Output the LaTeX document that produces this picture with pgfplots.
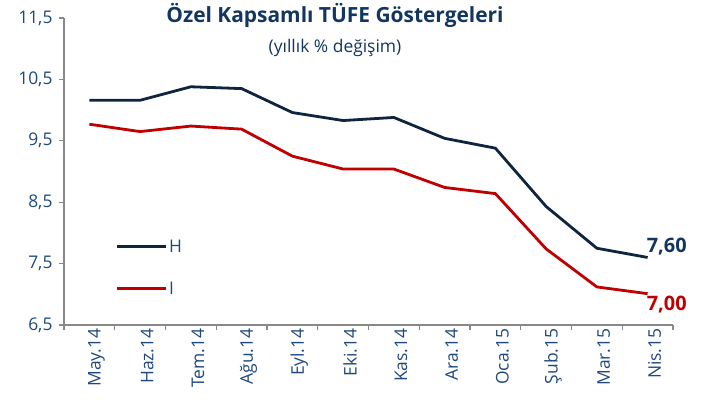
\documentclass[border=0pt]{standalone}
\usepackage{pgfplots}
\pgfplotsset{compat=1.18}
\usepackage{fontspec}
\setmainfont{Open Sans}
\definecolor{navy}{HTML}{0F243E}
\definecolor{tickblue}{HTML}{1F497D}
\definecolor{titleblue}{HTML}{12365F}
\definecolor{redl}{HTML}{C00000}
\definecolor{axgray}{HTML}{898989}
\begin{document}
\begin{tikzpicture}
\useasboundingbox (-64bp,-78bp) rectangle (641bp,325bp);
\begin{axis}[
  scale only axis, width=609bp, height=307bp,
  xmin=-0.5, xmax=11.5, ymin=6.5, ymax=11.5,
  axis x line*=bottom, axis y line*=left,
  axis line style={axgray, line width=1.3bp, -},
  clip=false,
  ytick={6.5,7.5,...,11.5},
  xtick={-0.5,0.5,...,11.5}, xticklabels={},
  extra x ticks={0,...,11},
  extra x tick labels={May.14,Haz.14,Tem.14,Ağu.14,Eyl.14,Eki.14,Kas.14,Ara.14,Oca.15,Şub.15,Mar.15,Nis.15},
  extra x tick style={major tick length=0pt},
  tick align=outside, major tick length=5bp,
  tick style={axgray, line width=1.2bp},
  yticklabel style={font=\fontsize{17.5}{20}\selectfont, text=tickblue, xshift=-3bp},
  xticklabel style={font=\fontsize{17.5}{20}\selectfont, text=tickblue, rotate=90, anchor=east, yshift=-7bp},
  /pgf/number format/.cd, use comma, fixed, fixed zerofill, precision=1, assume math mode=true,
  /pgfplots/.cd,
  legend style={at={(axis cs:0.505,7.92)}, anchor=north west, draw=none, fill=none,
    font=\fontsize{17.5}{20}\selectfont, text=tickblue, row sep=24bp, inner sep=0pt,
    nodes={inner sep=2bp}},
  legend image code/.code={\draw[#1, line width=3bp] (0bp,0bp) -- (49bp,0bp);},
  legend cell align=left,
]
\addplot[navy, line width=2.8bp] coordinates {
(0,10.16) (1,10.16) (2,10.38) (3,10.35) (4,9.96) (5,9.83) (6,9.88) (7,9.54) (8,9.38) (9,8.43) (10,7.75) (11,7.60)};
\addlegendentry{H}
\addplot[redl, line width=2.8bp] coordinates {
(0,9.77) (1,9.65) (2,9.74) (3,9.69) (4,9.25) (5,9.04) (6,9.04) (7,8.74) (8,8.64) (9,7.74) (10,7.12) (11,7.01)};
\addlegendentry{I}
\node[anchor=base west, inner sep=0pt, font=\bfseries\fontsize{20}{24}\selectfont, text=titleblue, xshift=-1bp, yshift=5bp] at (axis cs:11,7.60) {7,60};
\node[anchor=base west, inner sep=0pt, font=\bfseries\fontsize{20}{24}\selectfont, text=redl, xshift=-1bp, yshift=-17bp] at (axis cs:11,7.01) {7,00};
\node[anchor=base, inner sep=0pt, font=\bfseries\fontsize{21}{24}\selectfont, text=titleblue] at ([yshift=-5bp]rel axis cs:0.445,1) {Özel Kapsamlı TÜFE Göstergeleri};
\node[anchor=base, inner sep=0pt, font=\fontsize{17.5}{21}\selectfont, text=titleblue] at ([yshift=-35bp]rel axis cs:0.445,1) {(yıllık \% değişim)};
\end{axis}
\end{tikzpicture}
\end{document}
